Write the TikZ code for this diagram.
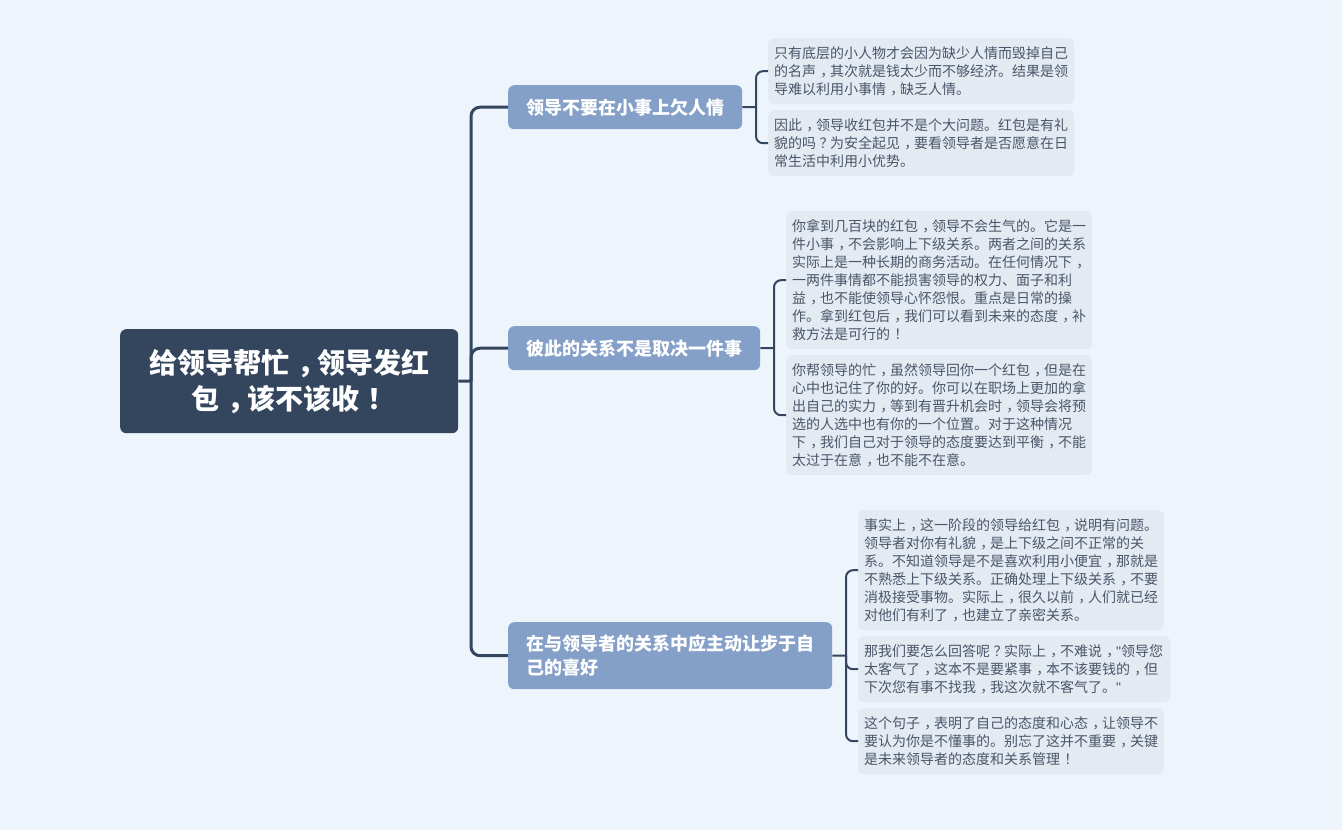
\documentclass[tikz,border=0pt]{standalone}
\usepackage{fontspec}
\setmainfont{Noto Sans CJK SC}
\newfontfamily\latinf{Liberation Sans}
\catcode`，=\active
\protected\def，{\makebox[1em][l]{\hspace{.3em}\char"FF0C}}
\catcode`？=\active
\protected\def？{\makebox[1em][l]{\hspace{.25em}\char"FF1F}}
\catcode`！=\active
\protected\def！{\makebox[1em][l]{\hspace{.3em}\char"FF01}}
\definecolor{bgc}{HTML}{EEF4FB}
\definecolor{rootc}{HTML}{33465E}
\definecolor{topicc}{HTML}{84A0C8}
\definecolor{detailc}{HTML}{E4EAF2}
\definecolor{linec}{HTML}{33465E}
\definecolor{textc}{HTML}{4A5568}
\tikzset{
  rootbox/.style={fill=rootc,text=white,rounded corners=6pt,anchor=north west,align=center,inner sep=0pt,font=\fontsize{28}{36}\selectfont\bfseries},
  topicbox/.style={fill=topicc,text=white,rounded corners=6pt,anchor=north west,align=left,inner xsep=18pt,inner ysep=0pt,font=\fontsize{18}{24}\selectfont\bfseries},
  detailbox/.style={fill=detailc,text=textc,rounded corners=6pt,anchor=north west,align=left,inner xsep=6pt,inner ysep=0pt,font=\fontsize{14}{18}\selectfont},
  main/.style={draw=linec,line width=3pt,rounded corners=9pt},
  sub/.style={draw=linec,line width=2pt,rounded corners=7pt},
}
\newcommand{\dnode}[6]{\node[detailbox,minimum width=#3pt,minimum height=#4pt,text width=#3pt-12pt] (#5) at (#1,#2) {#6};}
\begin{document}
\begin{tikzpicture}[x=1pt,y=-1pt]
\fill[bgc] (0,0) rectangle (1342,830);
\useasboundingbox (0,0) rectangle (1342,830);

\node[rootbox,minimum width=338pt,minimum height=104pt,text width=320pt] (root) at (120,329) {给领导帮忙，领导发红\\包，该不该收！};

\node[topicbox,minimum width=234pt,minimum height=44pt] (t1) at (508,85) {领导不要在小事上欠人情};
\node[topicbox,minimum width=252pt,minimum height=44pt] (t2) at (508,326) {彼此的关系不是取决一件事};
\node[topicbox,minimum width=324pt,minimum height=67pt,text width=288pt] (t3) at (508,622) {在与领导者的关系中应主动让步于自\\己的喜好};

\dnode{768}{38}{306}{66}{d1}{只有底层的小人物才会因为缺少人情而毁掉自己\\的名声，其次就是钱太少而不够经济。结果是领\\导难以利用小事情，缺乏人情。}
\dnode{768}{110}{306}{66}{d2}{因此，领导收红包并不是个大问题。红包是有礼\\貌的吗？为安全起见，要看领导者是否愿意在日\\常生活中利用小优势。}
\dnode{786}{211}{306}{138}{d3}{你拿到几百块的红包，领导不会生气的。它是一\\件小事，不会影响上下级关系。两者之间的关系\\实际上是一种长期的商务活动。在任何情况下，\\一两件事情都不能损害领导的权力、面子和利\\益，也不能使领导心怀怨恨。重点是日常的操\\作。拿到红包后，我们可以看到未来的态度，补\\救方法是可行的！}
\dnode{786}{355}{306}{120}{d4}{你帮领导的忙，虽然领导回你一个红包，但是在\\心中也记住了你的好。你可以在职场上更加的拿\\出自己的实力，等到有晋升机会时，领导会将预\\选的人选中也有你的一个位置。对于这种情况\\下，我们自己对于领导的态度要达到平衡，不能\\太过于在意，也不能不在意。}
\dnode{858}{510}{306}{120}{d5}{事实上，这一阶段的领导给红包，说明有问题。\\领导者对你有礼貌，是上下级之间不正常的关\\系。不知道领导是不是喜欢利用小便宜，那就是\\不熟悉上下级关系。正确处理上下级关系，不要\\消极接受事物。实际上，很久以前，人们就已经\\对他们有利了，也建立了亲密关系。}
\dnode{858}{636}{312}{66}{d6}{那我们要怎么回答呢？实际上，不难说，{\latinf "}领导您\\太客气了，这本不是要紧事，本不该要钱的，但\\下次您有事不找我，我这次就不客气了。{\latinf "}}
\dnode{858}{708}{306}{66}{d7}{这个句子，表明了自己的态度和心态，让领导不\\要认为你是不懂事的。别忘了这并不重要，关键\\是未来领导者的态度和关系管理！}

\coordinate (hub) at (471,381);
\draw[main,rounded corners=0pt] (root.east) -- (hub);
\draw[main] (hub) |- (t1.west);
\draw[main] (hub) |- (t2.west);
\draw[main] (hub) |- (t3.west);

\coordinate (h1) at (756,107);
\draw[sub,rounded corners=0pt] (t1.east) -- (h1);
\draw[sub] (h1) |- (d1.west);
\draw[sub] (h1) |- (d2.west);

\coordinate (h2) at (774,348);
\draw[sub,rounded corners=0pt] (t2.east) -- (h2);
\draw[sub] (h2) |- (d3.west);
\draw[sub] (h2) |- (d4.west);

\coordinate (h3) at (846,655.5);
\draw[sub,rounded corners=0pt] (t3.east) -- (h3);
\draw[sub] (h3) |- (d5.west);
\draw[sub] (h3) |- (d6.west);
\draw[sub] (h3) |- (d7.west);
\end{tikzpicture}
\end{document}
